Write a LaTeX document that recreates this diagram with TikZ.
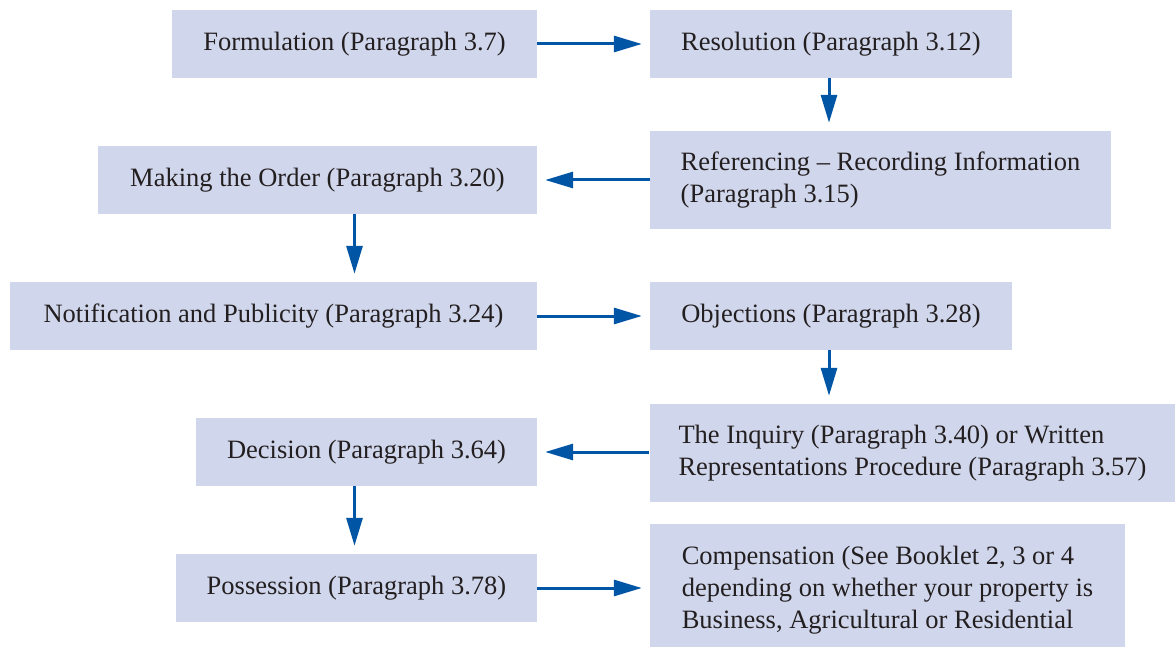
\documentclass[tikz,border=0pt]{standalone}
\usepackage{fontspec}
\setmainfont{Liberation Serif}
\usetikzlibrary{arrows.meta}
\definecolor{boxfill}{HTML}{D0D6EB}
\definecolor{arrowblue}{HTML}{0055A5}
\definecolor{txt}{HTML}{231F20}
\tikzset{
  flowbox/.style={fill=boxfill, draw=none, text=txt, inner xsep=31pt, inner ysep=0pt,
    minimum height=68pt, font=\fontsize{26.5}{32}\selectfont, anchor=center},
  leftbox/.style={flowbox, align=center},
  rightbox/.style={flowbox, align=left},
  flowarrow/.style={draw=arrowblue, line width=3pt, shorten >=8pt,
    -{Triangle[length=28pt,width=16pt]}}
}
\begin{document}
\begin{tikzpicture}[x=1pt,y=-1pt]
\useasboundingbox (0,0) rectangle (1175,647);
\node[leftbox, minimum width=365pt] (form) at (354.5,44) {Formulation (Paragraph 3.7)};
\node[rightbox, minimum width=362pt] (res) at (831,44) {Resolution (Paragraph 3.12)};
\node[rightbox, minimum width=461pt, minimum height=98pt] (ref) at (880.5,180) {Referencing -- Recording Information\\(Paragraph 3.15)};
\node[leftbox, minimum width=439pt] (make) at (317.5,180) {Making the Order (Paragraph 3.20)};
\node[leftbox, minimum width=527pt] (notif) at (273.5,316) {Notification and Publicity (Paragraph 3.24)};
\node[rightbox, minimum width=362pt] (obj) at (831,316) {Objections (Paragraph 3.28)};
\node[rightbox, inner xsep=29pt, minimum width=525pt, minimum height=98pt] (inq) at (912.5,453) {The Inquiry (Paragraph 3.40) or Written\\Representations Procedure (Paragraph 3.57)};
\node[leftbox, minimum width=341pt] (dec) at (366.5,452) {Decision (Paragraph 3.64)};
\node[leftbox, minimum width=361pt] (poss) at (356.5,588) {Possession (Paragraph 3.78)};
\node[rightbox, inner xsep=27pt, minimum width=475pt, minimum height=132pt] (comp) at (887.5,590) {Compensation (See Booklet 2, 3 or 4\\depending on whether your property is\\Business, Agricultural or Residential};
\draw[flowarrow] (form.east) -- (res.west);
\draw[flowarrow] ([xshift=-2pt]res.south) -- ([xshift=-2pt]res.south |- ref.north);
\draw[flowarrow] (ref.west) -- (make.east);
\draw[flowarrow] (make.south -| form.south) -- (notif.north -| form.south);
\draw[flowarrow] (notif.east) -- (obj.west);
\draw[flowarrow] ([xshift=-2pt]obj.south) -- ([xshift=-2pt]obj.south |- inq.north);
\draw[flowarrow] (inq.west |- dec.east) -- (dec.east);
\draw[flowarrow] (dec.south -| form.south) -- (poss.north -| form.south);
\draw[flowarrow] (poss.east) -- (poss.east -| comp.west);
\end{tikzpicture}
\end{document}
